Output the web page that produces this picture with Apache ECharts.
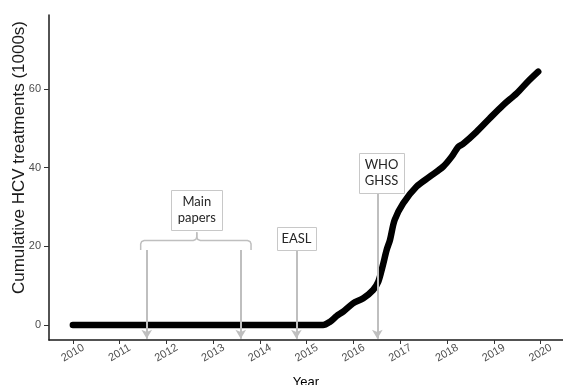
<!DOCTYPE html>
<html>
<head>
<meta charset="utf-8">
<script src="https://cdn.jsdelivr.net/npm/echarts@6/dist/echarts.min.js"></script>
<style>
html,body{margin:0;padding:0;background:#fff;}
#chart{width:563px;height:385px;}
</style>
</head>
<body>
<div id="chart"></div>
<script>
// ---- data ----
const years = [2010, 2011, 2012, 2013, 2014, 2015, 2015.35, 2015.50, 2015.64, 2015.78, 2015.99, 2016.21, 2016.42, 2016.53, 2016.62, 2016.71, 2016.78, 2016.88, 2017.06, 2017.35, 2017.63, 2017.92, 2018.10, 2018.24, 2018.34, 2018.63, 2018.91, 2019.20, 2019.49, 2019.73, 2019.95];
const treatments = [0, 0, 0, 0, 0, 0, 0, 0.85, 2.3, 3.4, 5.5, 6.8, 8.9, 11.0, 14.8, 19.1, 21.6, 26.7, 30.9, 35.2, 37.7, 40.3, 42.8, 45.3, 46.0, 49.1, 52.5, 55.9, 58.9, 61.9, 64.4];
const xTicks = [2010, 2011, 2012, 2013, 2014, 2015, 2016, 2017, 2018, 2019, 2020];
const yTicks = [0, 20, 40, 60];

// annotation events (arrows)
const arrowYears = [2011.58, 2013.59, 2014.78, 2016.51];
const arrowTops = [19.1, 19.1, 19.1, 33.5];
const arrowBottom = -3.5;

// annotation labels
const boxLabels = ['Main\npapers', 'EASL', 'WHO\nGHSS'];
const boxYears = [2012.65, 2014.78, 2016.60];
const boxBottoms = [24.15, 19.07, 33.49];
// brace over the main papers
const braceYears = [2011.45, 2012.65, 2013.81];
const braceLevels = [19.07, 21.5, 23.6];

const chart = echarts.init(document.getElementById('chart'));
const axisFont = 'Liberation Sans, Arial, sans-serif';

chart.setOption({
  animation: false,
  grid: {left: 49, right: 0, top: 15, bottom: 45, containLabel: false, outerBoundsMode: 'none'},
  xAxis: {
    type: 'value', min: 2009.49, max: 2020.48,
    name: 'Year', nameLocation: 'middle', nameGap: 36, nameMoveOverlap: false,
    nameTextStyle: {color: '#000', fontSize: 13, fontFamily: axisFont},
    axisLine: {show: true, onZero: false, lineStyle: {color: '#1a1a1a', width: 1.5}},
    axisTick: {show: true, customValues: xTicks, length: 4, lineStyle: {color: '#333', width: 1}},
    axisLabel: {show: true, customValues: xTicks, rotate: 30, align: 'center', verticalAlign: 'middle', margin: 13,
      color: '#4d4d4d', fontSize: 11, fontFamily: axisFont, formatter: v => String(v)},
    splitLine: {show: false}
  },
  yAxis: {
    type: 'value', min: -3.8, max: 78.8,
    name: 'Cumulative HCV treatments (1000s)', nameLocation: 'middle', nameGap: 21, nameMoveOverlap: false,
    nameTextStyle: {color: '#1a1a1a', fontSize: 17, fontFamily: axisFont, padding: [0, 0, 0, 40]},
    axisLine: {show: true, onZero: false, lineStyle: {color: '#1a1a1a', width: 1.5}},
    axisTick: {show: true, customValues: yTicks, length: 5, lineStyle: {color: '#333', width: 1}},
    axisLabel: {show: true, customValues: yTicks, margin: 8, color: '#4d4d4d', fontSize: 11, fontFamily: axisFont},
    splitLine: {show: false}
  },
  series: [{
    type: 'line',
    data: years.map((y, i) => [y, treatments[i]]),
    showSymbol: false,
    smooth: 0.3,
    lineStyle: {color: '#000', width: 6.5, cap: 'round', join: 'round'},
    z: 3,
    markLine: {
      silent: true,
      symbol: ['none', 'arrow'],
      symbolSize: [8, 9],
      lineStyle: {color: '#bfbfbf', width: 2, type: 'solid'},
      label: {show: false},
      emphasis: {disabled: true},
      data: arrowYears.map((x, i) => [{coord: [x, arrowTops[i]]}, {coord: [x, arrowBottom]}])
    }
  }]
});

// ---- annotation boxes & brace placed via the axes' scales ----
function px(x, y) { return chart.convertToPixel({gridIndex: 0}, [x, y]); }
const boxSizes = [[51, 40], [39, 23], [45, 40]];
const elements = [];
boxLabels.forEach((lab, i) => {
  const p = px(boxYears[i], boxBottoms[i]);
  const w = boxSizes[i][0], h = boxSizes[i][1];
  elements.push({
    type: 'rect', silent: true, z: 10,
    shape: {x: Math.round(p[0] - w / 2) + 0.5, y: Math.round(p[1] - h) + 0.5, width: w, height: h},
    style: {fill: '#fff', stroke: '#c8c8c8', lineWidth: 1}
  });
  elements.push({
    type: 'text', silent: true, z: 11,
    x: p[0], y: p[1] - h / 2,
    style: {text: lab, fill: '#262626', font: '13px Lato, "Open Sans", sans-serif', align: 'center', verticalAlign: 'middle', lineHeight: 16}
  });
});
const L = px(braceYears[0], braceLevels[0]);
const C = px(braceYears[1], braceLevels[2]);
const R = px(braceYears[2], braceLevels[0]);
const H = px(braceYears[1], braceLevels[1])[1];
const r = 3.5;
const leftHalf = [[L[0], L[1]], [L[0], H + r], [L[0] + 1, H + 1], [L[0] + r, H], [C[0] - r, H], [C[0] - 1, H - 1], [C[0], H - r], [C[0], C[1]]];
const rightHalf = [[C[0], C[1]], [C[0], H - r], [C[0] + 1, H - 1], [C[0] + r, H], [R[0] - r, H], [R[0] - 1, H + 1], [R[0], H + r], [R[0], R[1]]];
[leftHalf, rightHalf].forEach(pts => elements.push({
  type: 'polyline', silent: true, z: 10,
  shape: {points: pts},
  style: {fill: null, stroke: '#bfbfbf', lineWidth: 1.5}
}));
chart.setOption({graphic: elements});
</script>
</body>
</html>
